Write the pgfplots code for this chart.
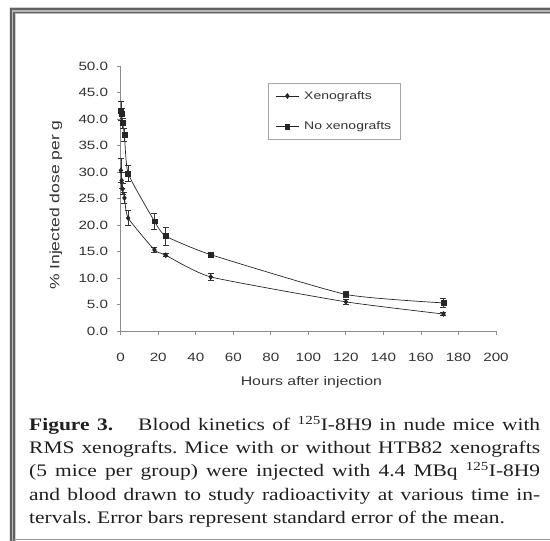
\documentclass[border=0pt]{standalone}
\usepackage{fontspec}
\setmainfont{Liberation Sans}
\newfontfamily\chartfont[FakeStretch=1.27]{Liberation Sans}
\newfontfamily\plainsans{Liberation Sans}
\newfontfamily\capfont[FakeStretch=1.22]{Liberation Serif}
\usepackage{pgfplots}
\usepackage{pgfplotstable}
\pgfplotsset{compat=1.18}

\pgfplotstableread{
t v e
0.083 30.3 2.3
0.5 28.4 1.5
1 26.8 1.0
2 25.1 1.0
4 21.3 1.4
18 15.3 0.4
24 14.3 0.3
48 10.2 0.6
120 5.5 0.4
172 3.2 0.3
}\xeno

\pgfplotstableread{
t v e
0.083 41.6 1.8
0.5 40.9 1.2
1 39.2 1.0
2 37.0 1.2
4 29.7 1.5
18 20.7 1.6
24 17.9 1.7
48 14.4 0.5
120 6.9 0.6
172 5.3 0.8
}\noxeno

\begin{document}
\frenchspacing
\begin{tikzpicture}
\path[use as bounding box] (0pt,0pt) rectangle (550pt,541pt);
% frame
\fill[black!28] (9.5pt,0pt) -- (9.5pt,533.5pt) -- (552pt,533.5pt) -- (552pt,527pt) -- (15.5pt,527pt) -- (15.5pt,0pt) -- cycle;
\draw[black!62, line width=1.7pt] (11pt,0pt) -- (11pt,532.3pt) -- (552pt,532.3pt);
\draw[black!62, line width=1.7pt] (14.2pt,0pt) -- (14.2pt,528.4pt) -- (552pt,528.4pt);
\draw[black!40, line width=1pt] (14pt,1.2pt) -- (552pt,1.2pt);

\begin{axis}[
  at={(120.7pt,210pt)}, anchor=south west,
  width=375.3pt, height=265pt, scale only axis,
  xmin=0, xmax=200, ymin=0, ymax=50,
  clip=false,
  axis lines=left,
  axis line style={-, draw=black!45, line width=0.8pt},
  tick align=outside, major tick length=4pt,
  tick style={draw=black!45, line width=0.8pt},
  xtick={0,20,...,200}, ytick={0,5,...,50},
  /pgf/number format/assume math mode=true,
  ticklabel style={font=\chartfont\fontsize{12}{14}\selectfont, text=black!80},
  yticklabel style={/pgf/number format/fixed, /pgf/number format/fixed zerofill, /pgf/number format/precision=1, xshift=-5pt},
  xticklabel style={yshift=-15pt},
  xlabel={Hours after injection},
  ylabel={\plainsans\fontsize{13.5}{15}\selectfont\scalebox{1.3}[1]{\% Injected dose per g}},
  xlabel style={font=\chartfont\fontsize{12.5}{14}\selectfont, text=black!80, at={(axis description cs:0.508,-0.1925)}, anchor=center},
  ylabel style={text=black!80, at={(axis description cs:-0.1724,0.475)}, anchor=center},
  legend style={at={(0.393,0.936)}, anchor=north west, draw=black!35, line width=0.7pt,
    font=\chartfont\fontsize{11}{13}\selectfont, text=black!80,
    inner xsep=7pt, inner ysep=6pt, row sep=17pt},
  legend cell align=left,
  legend image code/.code={\draw[mark repeat=2,mark phase=2,#1] plot coordinates {(0pt,0pt)(11.5pt,0pt)(23pt,0pt)};\path (26pt,0pt);},
]
\addplot[black!85, line width=0.7pt, smooth, tension=0.3,
  mark=diamond*, mark size=2.4pt, mark options={fill=black!85, solid},
  error bars/.cd, y dir=both, y explicit,
  error bar style={line width=0.6pt, black!80},
  error mark options={rotate=90, mark size=3pt, line width=0.6pt, black!80}]
  table[x=t, y=v, y error=e] {\xeno};
\addlegendentry{Xenografts}
\addplot[black!85, line width=0.7pt, smooth, tension=0.3,
  mark=square*, mark size=2.4pt, mark options={fill=black!85, solid},
  error bars/.cd, y dir=both, y explicit,
  error bar style={line width=0.6pt, black!80},
  error mark options={rotate=90, mark size=3pt, line width=0.6pt, black!80}]
  table[x=t, y=v, y error=e] {\noxeno};
\addlegendentry{No xenografts}
\end{axis}

\node[anchor=base west, text width=511pt, inner sep=0pt, align=justify,
  font=\capfont\fontsize{17.6}{23.2}\selectfont, text=black!88] at (29pt,110.5pt)
  {{\bfseries Figure 3.}\hspace{1em} Blood kinetics of \textsuperscript{125}I-8H9 in nude mice with\linebreak
   RMS xenografts. Mice with or without HTB82 xenografts\linebreak
   (5 mice per group) were injected with 4.4 MBq \textsuperscript{125}I-8H9\linebreak
   and blood drawn to study radioactivity at various time in-\linebreak
   tervals. Error bars represent standard error of the mean.};
\end{tikzpicture}
\end{document}
